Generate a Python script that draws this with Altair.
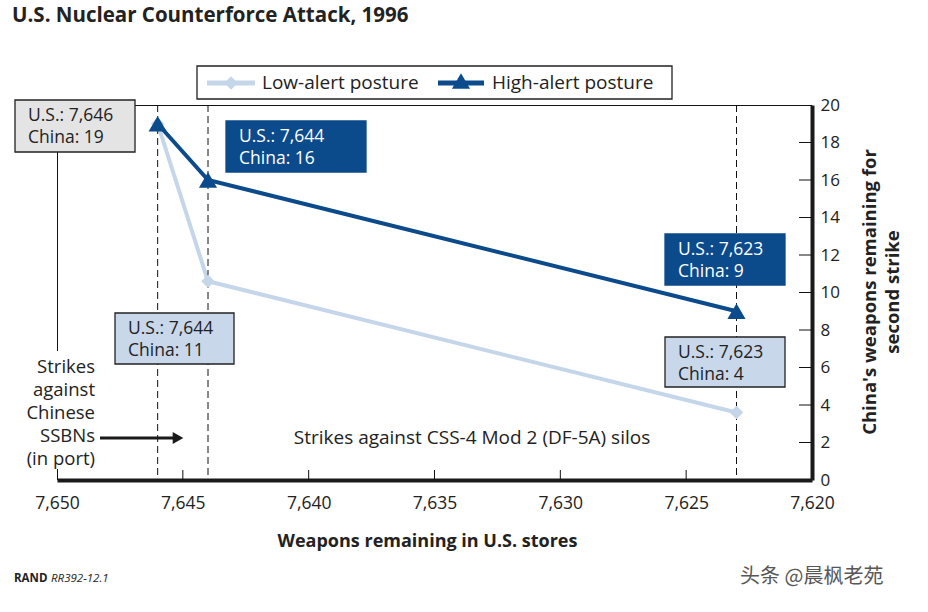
import altair as alt
import pandas as pd

# ---- data ----
us_weapons = [7646, 7644, 7623]
low_alert = [19, 10.6, 3.6]
high_alert = [19, 16, 9]
series = ["Low-alert posture", "High-alert posture"]
colors = ["#c5d6ea", "#0b4a8b"]
x_ticks = [7650, 7645, 7640, 7635, 7630, 7625, 7620]
y_ticks = list(range(0, 21, 2))
phase_lines = [7646, 7644, 7623]

title_text = "U.S. Nuclear Counterforce Attack, 1996"
x_title = "Weapons remaining in U.S. stores"
y_title = ["China's weapons remaining for", "second strike"]
ssbn_text = ["Strikes", "against", "Chinese", "SSBNs", "(in port)"]
silo_text = "Strikes against CSS-4 Mod 2 (DF-5A) silos"
box_labels = [
    ["U.S.: 7,646", "China: 19"],
    ["U.S.: 7,644", "China: 16"],
    ["U.S.: 7,644", "China: 11"],
    ["U.S.: 7,623", "China: 9"],
    ["U.S.: 7,623", "China: 4"],
]
box_styles = ["gray", "high", "low", "high", "low"]

W, H = 755, 375
FONT = "Open Sans"

rows = []
for s, vals in zip(series, [low_alert, high_alert]):
    for x, y in zip(us_weapons, vals):
        rows.append({"us": x, "china": y, "posture": s})
df = pd.DataFrame(rows)
one = pd.DataFrame({"k": [0]})

xs = alt.Scale(domain=[7620, 7650], reverse=True, nice=False)
ys = alt.Scale(domain=[0, 20], nice=False)

x_axis = alt.Axis(
    values=x_ticks, format=",", ticks=False, grid=False,
    domainWidth=4, domainColor="#1a1a1a",
    labelFont=FONT, labelFontSize=17.5, labelColor="#222", labelPadding=14,
    labelAlign="center", labelFlush=False, labelOverlap=False,
    title=x_title, titleFont=FONT, titleFontSize=18, titleFontWeight="bold",
    titleColor="#222", titlePadding=21, titleX=370)
y_axis = alt.Axis(
    orient="right", values=y_ticks, ticks=False, grid=False,
    domainWidth=4, domainColor="#1a1a1a",
    labelFont=FONT, labelFontSize=17, labelColor="#222", labelPadding=8,
    labelFlush=False, labelOverlap=False, labelBound=False,
    title=None)


def X():
    return alt.X("us:Q", scale=xs, axis=x_axis)


def Y():
    return alt.Y("china:Q", scale=ys, axis=y_axis)


def txt(t, x, y, **kw):
    return alt.Chart(one).mark_text(text=t, **kw).encode(
        x=alt.value(x), y=alt.value(y))


def box(x1, x2, y1, y2, fill, stroke="#222", sw=1.3):
    return alt.Chart(one).mark_rect(fill=fill, stroke=stroke, strokeWidth=sw).encode(
        x=alt.value(x1), x2=alt.value(x2), y=alt.value(y1), y2=alt.value(y2))


def hrule(x1, x2, y, color="#111", sw=1):
    return alt.Chart(one).mark_rule(color=color, strokeWidth=sw).encode(
        x=alt.value(x1), x2=alt.value(x2), y=alt.value(y))


# frame (top and left)
frame_top = hrule(0, W, 0.5)
frame_left = alt.Chart(one).mark_rule(color="#111", strokeWidth=1).encode(
    x=alt.value(0.5), y=alt.value(0), y2=alt.value(H))

# dashed phase lines
rules_df = pd.DataFrame({"us": phase_lines})
dashed = alt.Chart(rules_df).mark_rule(color="#111", strokeWidth=1, strokeDash=[7, 4]).encode(
    x=X(), y=alt.value(0), y2=alt.value(H))

# inward ticks
xt = alt.Chart(pd.DataFrame({"us": x_ticks[1:-1]})).mark_rule(color="#111", strokeWidth=1).encode(
    x=X(), y=alt.value(H - 10), y2=alt.value(H))
yt = alt.Chart(pd.DataFrame({"china": y_ticks[1:-1]})).mark_rule(color="#111", strokeWidth=1).encode(
    y=Y(), x=alt.value(W - 13), x2=alt.value(W))

low_df = df[df.posture == series[0]]
high_df = df[df.posture == series[1]]
low_line = alt.Chart(low_df).mark_line(strokeWidth=4, color=colors[0]).encode(
    x=X(), y=Y(), order=alt.Order("us:Q"))
high_line = alt.Chart(high_df).mark_line(strokeWidth=4, color=colors[1]).encode(
    x=X(), y=Y(), order=alt.Order("us:Q"))
low_pts = alt.Chart(low_df).mark_point(
    shape="diamond", filled=True, size=180, opacity=1, color=colors[0]).encode(x=X(), y=Y())
high_pts = alt.Chart(high_df).mark_point(
    shape="triangle-up", filled=True, size=330, opacity=1, color=colors[1]).encode(x=X(), y=Y())

layers = [low_line, frame_top, frame_left, dashed, xt, yt, low_pts, high_line, high_pts]

# white background behind SSBN note (hides frame line)
layers.append(box(-40, 41, 246, 364, "#ffffff", stroke="#ffffff", sw=0))
layers.append(txt(ssbn_text, 38, 262, align="right", baseline="middle",
                  font=FONT, fontSize=18.5, lineHeight=23, color="#222"))
# arrow
layers.append(hrule(43, 118, 333, color="#1a1a1a", sw=3))
layers.append(alt.Chart(one).mark_point(shape="triangle-right", filled=True, size=150,
                                        color="#1a1a1a", opacity=1).encode(
    x=alt.value(121), y=alt.value(333)))
layers.append(txt(silo_text, 415, 333, align="center", baseline="middle",
                  font=FONT, fontSize=19, color="#222"))

# annotation boxes
box_pos = [(-42, 78, -5, 47), (169, 309, 16, 67), (58, 177, 208, 259),
           (608, 728, 129, 180), (608, 728, 232, 282)]
fills = {"gray": ("#e4e4e4", "#222", "#222"),
         "high": (colors[1], colors[1], "#ffffff"),
         "low": ("#c8d8ea", "#222", "#222")}
for lab, sty, (x1, x2, y1, y2) in zip(box_labels, box_styles, box_pos):
    f, s, tc = fills[sty]
    layers.append(box(x1, x2, y1, y2, f, stroke=s))
    layers.append(txt(lab, x1 + 13, y1 + 16, align="left", baseline="middle",
                      font=FONT, fontSize=17.5, lineHeight=22, color=tc))

# legend
layers.append(box(140, 615, -39, -6, "#ffffff", stroke="#222", sw=1.3))
layers.append(hrule(150, 198, -22, color=colors[0], sw=5))
layers.append(alt.Chart(one).mark_point(shape="diamond", filled=True, size=180,
                                        color=colors[0], opacity=1).encode(
    x=alt.value(174), y=alt.value(-22)))
layers.append(txt(series[0], 205, -22, align="left", baseline="middle",
                  font=FONT, fontSize=19, color="#222"))
layers.append(hrule(381, 427, -22, color=colors[1], sw=5))
layers.append(alt.Chart(one).mark_point(shape="triangle-up", filled=True, size=330,
                                        color=colors[1], opacity=1).encode(
    x=alt.value(404), y=alt.value(-24)))
layers.append(txt(series[1], 435, -22, align="left", baseline="middle",
                  font=FONT, fontSize=19, color="#222"))

# y title (rotated)
layers.append(txt(y_title, 813, 187, align="center", baseline="middle", angle=270,
                  font=FONT, fontSize=18.5, fontWeight="bold", lineHeight=23, color="#222"))

# chart title, footer, watermark
layers.append(txt(title_text, -45, -89, align="left", baseline="middle",
                  font=FONT, fontSize=20.5, fontWeight="bold", color="#222"))
layers.append(txt("RAND", -43, 474, align="left", baseline="middle",
                  font=FONT, fontSize=11.5, fontWeight="bold", color="#222"))
layers.append(txt("RR392-12.1", -6, 474, align="left", baseline="middle",
                  font=FONT, fontSize=11.5, fontStyle="italic", color="#222"))
layers.append(txt("头条 @晨枫老苑", 683, 472, align="left", baseline="middle",
                  font="Noto Sans CJK SC", fontSize=20, color="#3a3a3a", opacity=0.85))

chart = alt.layer(*layers).properties(
    width=W, height=H,
    autosize=alt.AutoSizeParams(type="none"),
    padding={"left": 57, "top": 105, "right": 928 - 57 - W, "bottom": 612 - 105 - H},
).configure_view(stroke=None).configure(background="#ffffff")

chart.save("out.html", embed_options={"renderer": "svg", "actions": False})
